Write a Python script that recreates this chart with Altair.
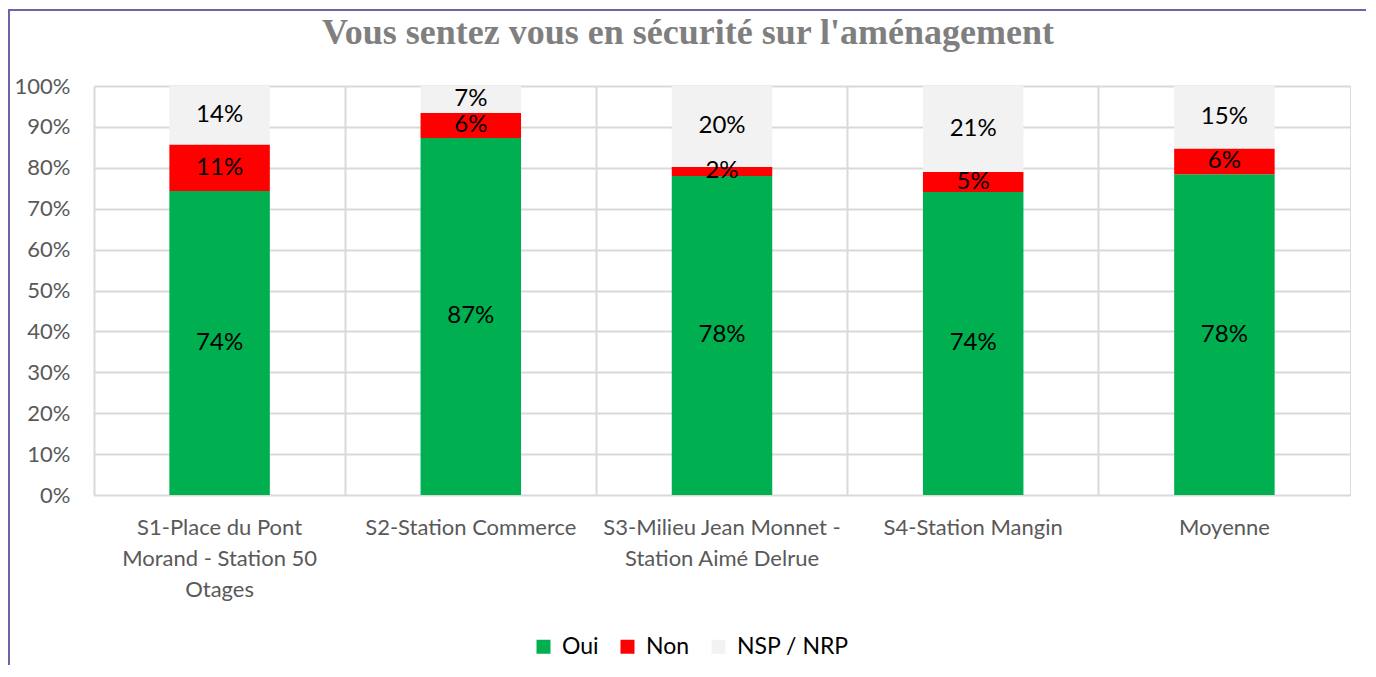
import altair as alt
import pandas as pd

title_text = "Vous sentez vous en sécurité sur l'aménagement"
categories = ["S1-Place du Pont\nMorand - Station 50\nOtages", "S2-Station Commerce",
              "S3-Milieu Jean Monnet -\nStation Aimé Delrue", "S4-Station Mangin", "Moyenne"]
series = ["Oui", "Non", "NSP / NRP"]
colors = ["#00b050", "#ff0000", "#f2f2f2"]
oui = [74.3, 87.3, 78.0, 74.1, 78.4]
non = [11.4, 6.1, 2.2, 4.9, 6.3]
nsp = [14.3, 6.6, 19.8, 21.0, 15.3]
y_ticks = [0, 10, 20, 30, 40, 50, 60, 70, 80, 90, 100]

rows = []
for i, c in enumerate(categories):
    for k, (s, vals) in enumerate(zip(series, [oui, non, nsp])):
        rows.append({"cat": c, "serie": s, "val": vals[i], "ord": k})
df = pd.DataFrame(rows)

FONT = "Lato"
W, H = 1256, 409

base = alt.Chart(df).transform_stack(
    stack="val", groupby=["cat"], as_=["y0", "y1"], sort=[alt.SortField("ord")]
).transform_calculate(
    mid="(datum.y0 + datum.y1) / 2",
    lab="round(datum.val) + '%'"
)

xenc = alt.X("cat:N", sort=categories, title=None,
             scale=alt.Scale(paddingInner=0, paddingOuter=0),
             axis=alt.Axis(labelExpr="split(datum.label, '\\n')", labelAngle=0,
                           labelFontSize=22, labelColor="#595959", labelFont=FONT,
                           labelLineHeight=31, labelPadding=32, labelLimit=400,
                           ticks=False, domain=False, grid=True, bandPosition=0,
                           gridColor="#d9d9d9", gridWidth=2, labelBaseline="middle"))

bars = base.mark_bar(width=alt.RelativeBandSize(0.4)).encode(
    x=xenc,
    y=alt.Y("y0:Q", title=None, scale=alt.Scale(domain=[0, 100], nice=False),
            axis=alt.Axis(values=y_ticks, labelExpr="datum.value + '%'", labelFontSize=22,
                          labelColor="#595959", labelFont=FONT, labelPadding=24,
                          ticks=False, domain=False, gridColor="#d9d9d9", gridWidth=2)),
    y2="y1:Q",
    color=alt.Color("serie:N", sort=series,
                    scale=alt.Scale(domain=series, range=colors),
                    legend=alt.Legend(title=None, orient="none", direction="horizontal",
                                      legendX=438, legendY=549, symbolType="square",
                                      symbolSize=196, symbolStrokeWidth=0, labelOffset=7,
                                      labelFontSize=23, labelFont=FONT, labelColor="#000000",
                                      columnPadding=17, symbolOpacity=1)),
)

texts = base.mark_text(fontSize=24, font=FONT, color="#000000", baseline="middle").encode(
    x=alt.X("cat:N", sort=categories),
    y=alt.Y("mid:Q"),
    text="lab:N",
)

one = pd.DataFrame({"t": [title_text]})

title = alt.Chart(one).mark_text(
    font="Liberation Serif", fontSize=36, fontWeight="bold", color="#7f7f7f",
    baseline="middle", align="center"
).encode(x=alt.value(594), y=alt.value(-53), text="t:N")

border = alt.Chart(one).mark_rect(
    filled=False, stroke="#6e62a8", strokeWidth=2
).encode(x=alt.value(-85), x2=alt.value(1273), y=alt.value(-76), y2=alt.value(600))

chart = alt.layer(bars, texts, title, border).properties(
    width=W, height=H,
    autosize=alt.AutoSizeParams(type="none"),
    padding={"left": 86, "top": 78, "right": 16, "bottom": 170},
).configure_view(stroke="#d9d9d9", strokeWidth=2).configure(background="white")

chart.save("out.html", embed_options={"renderer": "svg", "actions": False})
